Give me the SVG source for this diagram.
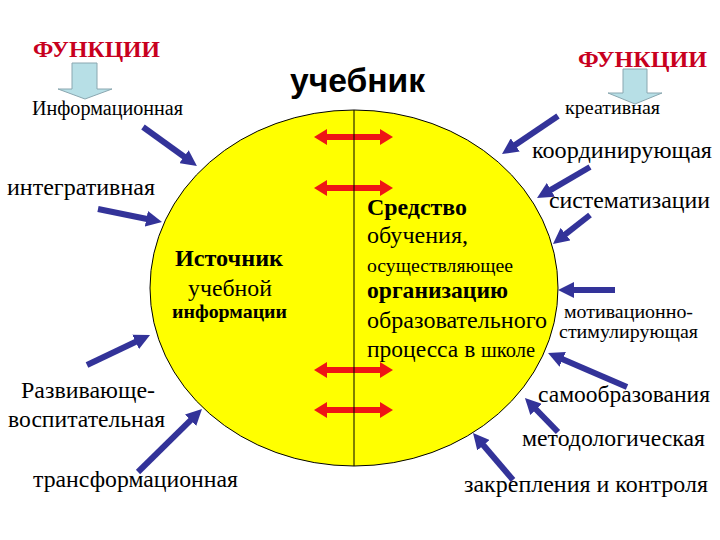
<svg xmlns="http://www.w3.org/2000/svg" width="720" height="540" viewBox="0 0 720 540">
<style>
.t{font-family:"Liberation Serif","Times New Roman",serif;fill:#000}
.b{font-weight:bold}
.red{fill:#C8001E;font-weight:bold}
.blue{stroke:#333399;stroke-width:6;fill:none;marker-end:url(#bh)}
.rd{stroke:#EE1515;stroke-width:6;fill:none;marker-end:url(#rh);marker-start:url(#rh)}
.ba{fill:#B7DFE6;stroke:#8AA7B0;stroke-width:1}
</style>
<defs>
<marker id="bh" viewBox="0 0 16 16" refX="2" refY="8" markerWidth="16" markerHeight="16" markerUnits="userSpaceOnUse" orient="auto"><path d="M0,0 L16,8 L0,16 z" fill="#333399"/></marker>
<marker id="rh" viewBox="0 0 13 16" refX="1" refY="8" markerWidth="13" markerHeight="16" markerUnits="userSpaceOnUse" orient="auto-start-reverse"><path d="M0,0 L13,8 L0,16 z" fill="#EE1515"/></marker>
</defs>
<rect width="720" height="540" fill="#fff"/>
<g id="textbook">
<ellipse cx="354" cy="288" rx="204" ry="178" fill="#FFFF00" stroke="#000" stroke-width="1"/>
<text x="290" y="92" textLength="135" lengthAdjust="spacingAndGlyphs" style="font-family:'Liberation Sans',Arial,sans-serif;font-weight:bold;font-size:34px">учебник</text>
</g>
<g id="functions-left">
<text class="t red" x="33" y="57" textLength="127" lengthAdjust="spacingAndGlyphs" style="font-size:23px">ФУНКЦИИ</text>
<polygon class="ba" points="72,63 97,63 97,89 112,89 85,99 58,89 72,89"/>
</g>
<g id="functions-right">
<text class="t red" x="578" y="67" textLength="129" lengthAdjust="spacingAndGlyphs" style="font-size:23px">ФУНКЦИИ</text>
<polygon class="ba" points="623,69 647,69 647,93 662,93 635,104 608,93 623,93"/>
</g>
<g id="source">
<text class="t b" x="175" y="266" textLength="108" lengthAdjust="spacingAndGlyphs" style="font-size:24px">Источник</text>
<text class="t" x="188" y="296" textLength="84" lengthAdjust="spacingAndGlyphs" style="font-size:23px">учебной</text>
<text class="t b" x="172" y="318" textLength="115" lengthAdjust="spacingAndGlyphs" style="font-size:19px">информации</text>
</g>
<g id="means">
<text class="t b" x="367" y="215" textLength="100" lengthAdjust="spacingAndGlyphs" style="font-size:23px">Средство</text>
<text class="t" x="367" y="243" textLength="101" lengthAdjust="spacingAndGlyphs" style="font-size:23px">обучения,</text>
<text class="t" x="367" y="272" textLength="146" lengthAdjust="spacingAndGlyphs" style="font-size:19px">осуществляющее</text>
<text class="t b" x="367" y="298" textLength="141" lengthAdjust="spacingAndGlyphs" style="font-size:23px">организацию</text>
<text class="t" x="367" y="328" textLength="180" lengthAdjust="spacingAndGlyphs" style="font-size:23px">образовательного</text>
<text class="t" x="367" y="357" textLength="168" lengthAdjust="spacingAndGlyphs" style="font-size:23px">процесса в <tspan style="font-size:20px">школе</tspan></text>
</g>
<g id="f-informational"><text class="t" x="32" y="115" textLength="151" lengthAdjust="spacingAndGlyphs" style="font-size:20px">Информационная</text></g>
<g id="f-creative"><text class="t" x="565" y="114" textLength="95" lengthAdjust="spacingAndGlyphs" style="font-size:19px">креативная</text></g>
<g id="f-coordinating"><text class="t" x="532" y="158" textLength="180" lengthAdjust="spacingAndGlyphs" style="font-size:23px">координирующая</text></g>
<g id="f-integrative"><text class="t" x="7" y="195" textLength="148" lengthAdjust="spacingAndGlyphs" style="font-size:23px">интегративная</text></g>
<g id="f-systematization"><text class="t" x="549" y="208" textLength="161" lengthAdjust="spacingAndGlyphs" style="font-size:23px">систематизации</text></g>
<g id="f-motivational"><text class="t" x="564" y="318" textLength="129" lengthAdjust="spacingAndGlyphs" style="font-size:19px">мотивационно-</text><text class="t" x="559" y="338" textLength="139" lengthAdjust="spacingAndGlyphs" style="font-size:19px">стимулирующая</text></g>
<g id="f-developing"><text class="t" x="21" y="398" textLength="134" lengthAdjust="spacingAndGlyphs" style="font-size:23px">Развивающе-</text><text class="t" x="8" y="427" textLength="157" lengthAdjust="spacingAndGlyphs" style="font-size:23px">воспитательная</text></g>
<g id="f-selfeducation"><text class="t" x="538" y="402" textLength="172" lengthAdjust="spacingAndGlyphs" style="font-size:23px">самообразования</text></g>
<g id="f-methodological"><text class="t" x="522" y="446" textLength="183" lengthAdjust="spacingAndGlyphs" style="font-size:23px">методологическая</text></g>
<g id="f-transformational"><text class="t" x="33" y="487" textLength="205" lengthAdjust="spacingAndGlyphs" style="font-size:23px">трансформационная</text></g>
<g id="f-control"><text class="t" x="464" y="492" textLength="244" lengthAdjust="spacingAndGlyphs" style="font-size:23px">закрепления и контроля</text></g>
<g id="connectors">
<line class="rd" x1="326" y1="137" x2="381" y2="137"/>
<line class="rd" x1="326" y1="188" x2="381" y2="188"/>
<line class="rd" x1="326" y1="370" x2="381" y2="370"/>
<line class="rd" x1="326" y1="410" x2="381" y2="410"/>
<line class="blue" x1="143" y1="127" x2="185.6" y2="157.8"/>
<line class="blue" x1="558" y1="116" x2="513.6" y2="146.1"/>
<line class="blue" x1="590" y1="167" x2="549.1" y2="190.9"/>
<line class="blue" x1="590" y1="215" x2="564" y2="235.4"/>
<line class="blue" x1="615" y1="290" x2="572" y2="290"/>
<line class="blue" x1="627" y1="387" x2="560.9" y2="358.5"/>
<line class="blue" x1="558" y1="432" x2="534.7" y2="408"/>
<line class="blue" x1="513" y1="480" x2="482.1" y2="443.7"/>
<line class="blue" x1="98" y1="209" x2="148.3" y2="219.2"/>
<line class="blue" x1="87" y1="365" x2="137.4" y2="341"/>
<line class="blue" x1="138" y1="472" x2="192" y2="418.8"/>
</g>
<g id="divider">
<line x1="354" y1="110" x2="354" y2="466" stroke="#000" stroke-width="1"/>
</g>
</svg>
